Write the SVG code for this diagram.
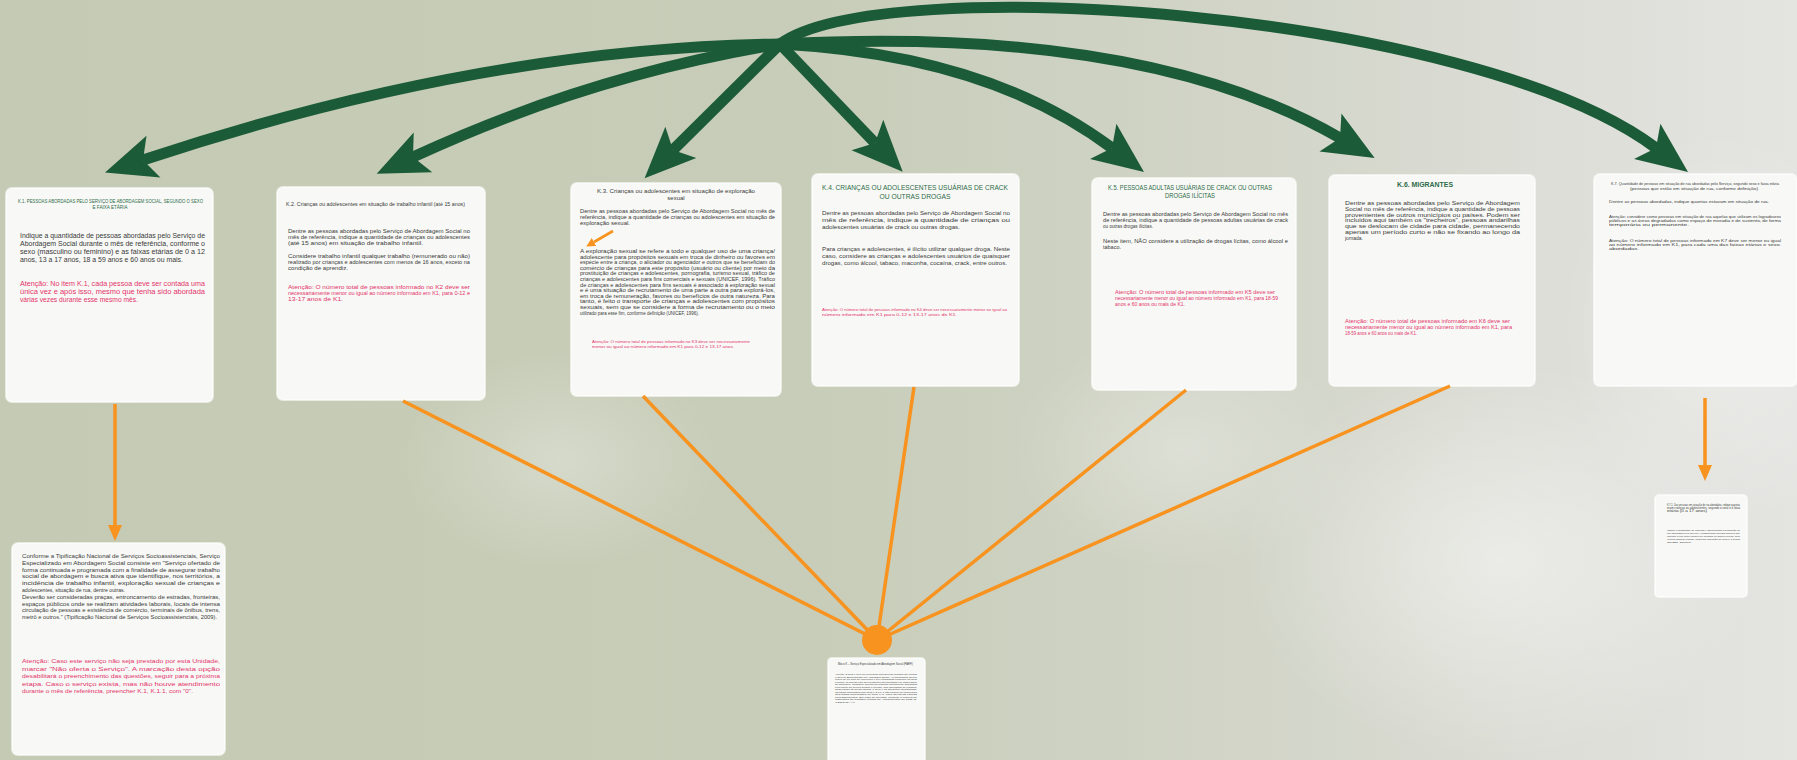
<svg xmlns="http://www.w3.org/2000/svg" width="1797" height="760" viewBox="0 0 1797 760">
<defs>
<linearGradient id="bg" x1="0" y1="0" x2="1" y2="0">
<stop offset="0" stop-color="#c4cab3"/>
<stop offset="0.45" stop-color="#c8cdb9"/>
<stop offset="0.7" stop-color="#d2d5c8"/>
<stop offset="0.85" stop-color="#dcddd6"/>
<stop offset="1" stop-color="#e4e4e1"/>
</linearGradient>
<radialGradient id="glow" cx="0.5" cy="0.5" r="0.5">
<stop offset="0" stop-color="#ffffff" stop-opacity="0.55"/>
<stop offset="1" stop-color="#ffffff" stop-opacity="0"/>
</radialGradient>
<marker id="gh" viewBox="-12 -24 54 48" markerWidth="54" markerHeight="48" refX="0" refY="0" orient="auto" markerUnits="userSpaceOnUse">
<path d="M0,0 L-11,-22 L40,0 L-11,22 Z" fill="#1c5b38"/>
</marker>
<marker id="oh" viewBox="0 -8 16 16" markerWidth="16" markerHeight="16" refX="0" refY="0" orient="auto" markerUnits="userSpaceOnUse">
<path d="M0,-7 L16,0 L0,7 Z" fill="#f7931e"/>
</marker>
<marker id="os" viewBox="0 -5 9 10" markerWidth="9" markerHeight="10" refX="0" refY="0" orient="auto" markerUnits="userSpaceOnUse">
<path d="M0,-4.5 L9,0 L0,4.5 Z" fill="#f7931e"/>
</marker>
<style>
.card{fill:#f8f9f6;stroke:#ffffff;stroke-opacity:0.6;stroke-width:2}
text{font-family:"Liberation Sans",Arial,sans-serif;fill:#3a3a3a}
.r{fill:#e4336b}
.g{fill:#2d6a48}
.ga{fill:none;stroke:#1c5b38;stroke-width:11;stroke-linecap:butt}
.ol{fill:none;stroke:#f7931e;stroke-width:3.5}
</style>
</defs>
<rect x="0" y="0" width="1797" height="760" fill="url(#bg)"/>
<ellipse cx="560" cy="460" rx="160" ry="110" fill="url(#glow)" opacity="0.5"/>
<ellipse cx="1180" cy="450" rx="170" ry="120" fill="url(#glow)" opacity="0.5"/>
<ellipse cx="1500" cy="560" rx="260" ry="200" fill="url(#glow)" opacity="0.8"/>
<ellipse cx="1720" cy="330" rx="160" ry="200" fill="url(#glow)" opacity="0.6"/>

<g id="card-k1">
<rect class="card" x="6" y="188" width="207" height="214" rx="6"/>
<text class="g" x="18" y="203" font-size="4.6" textLength="185" lengthAdjust="spacingAndGlyphs">K.1. PESSOAS ABORDADAS PELO SERVIÇO DE ABORDAGEM SOCIAL, SEGUNDO O SEXO</text>
<text class="g" x="110" y="209" font-size="4.6" text-anchor="middle">E FAIXA ETÁRIA</text>
<text x="20" y="238" font-size="6.8" textLength="185" lengthAdjust="spacingAndGlyphs">Indique a quantidade de pessoas abordadas pelo Serviço de</text>
<text x="20" y="246" font-size="6.8" textLength="185" lengthAdjust="spacingAndGlyphs">Abordagem Social durante o mês de referência, conforme o</text>
<text x="20" y="254" font-size="6.8" textLength="185" lengthAdjust="spacingAndGlyphs">sexo (masculino ou feminino) e as faixas etárias de 0 a 12</text>
<text x="20" y="262" font-size="6.8" textLength="163" lengthAdjust="spacingAndGlyphs">anos, 13 a 17 anos, 18 a 59 anos e 60 anos ou mais.</text>
<text class="r" x="20" y="286" font-size="6.8" textLength="185" lengthAdjust="spacingAndGlyphs">Atenção: No item K.1, cada pessoa deve ser contada uma</text>
<text class="r" x="20" y="294" font-size="6.8" textLength="185" lengthAdjust="spacingAndGlyphs">única vez e após isso, mesmo que tenha sido abordada</text>
<text class="r" x="20" y="302" font-size="6.8" textLength="118" lengthAdjust="spacingAndGlyphs">várias vezes durante esse mesmo mês.</text>
</g>

<g id="card-k2">
<rect class="card" x="277" y="187" width="208" height="213" rx="6"/>
<text x="286" y="206" font-size="4.8" textLength="179" lengthAdjust="spacingAndGlyphs">K.2. Crianças ou adolescentes em situação de trabalho infantil (até 15 anos)</text>
<text x="288" y="233" font-size="5.4" textLength="182" lengthAdjust="spacingAndGlyphs">Dentre as pessoas abordadas pelo Serviço de Abordagem Social no</text>
<text x="288" y="239" font-size="5.4" textLength="182" lengthAdjust="spacingAndGlyphs">mês de referência, indique a quantidade de crianças ou adolescentes</text>
<text x="288" y="245" font-size="5.4" textLength="135" lengthAdjust="spacingAndGlyphs">(até 15 anos) em situação de trabalho infantil.</text>
<text x="288" y="258" font-size="5.4" textLength="182" lengthAdjust="spacingAndGlyphs">Considere trabalho infantil qualquer trabalho (remunerado ou não)</text>
<text x="288" y="264" font-size="5.4" textLength="182" lengthAdjust="spacingAndGlyphs">realizado por crianças e adolescentes com menos de 16 anos, exceto na</text>
<text x="288" y="270" font-size="5.4" textLength="60" lengthAdjust="spacingAndGlyphs">condição de aprendiz.</text>
<text class="r" x="288" y="289" font-size="5.4" textLength="182" lengthAdjust="spacingAndGlyphs">Atenção: O número total de pessoas informado no K2 deve ser</text>
<text class="r" x="288" y="295" font-size="5.4" textLength="182" lengthAdjust="spacingAndGlyphs">necessariamente menor ou igual ao número informado em K1, para 0-12 e</text>
<text class="r" x="288" y="301" font-size="5.4" textLength="55" lengthAdjust="spacingAndGlyphs">13-17 anos de K1.</text>
</g>

<g id="card-k3">
<rect class="card" x="571" y="183" width="210" height="213" rx="6"/>
<text x="676" y="193" font-size="6" text-anchor="middle" textLength="158" lengthAdjust="spacingAndGlyphs">K.3. Crianças ou adolescentes em situação de exploração</text>
<text x="676" y="200" font-size="6" text-anchor="middle">sexual</text>
<text x="580" y="213" font-size="5.2" textLength="195" lengthAdjust="spacingAndGlyphs">Dentre as pessoas abordadas pelo Serviço de Abordagem Social no mês de</text>
<text x="580" y="219" font-size="5.2" textLength="195" lengthAdjust="spacingAndGlyphs">referência, indique a quantidade de crianças ou adolescentes em situação de</text>
<text x="580" y="225" font-size="5.2" textLength="50" lengthAdjust="spacingAndGlyphs">exploração sexual.</text>
<text x="580" y="253" font-size="4.6" textLength="195" lengthAdjust="spacingAndGlyphs">A exploração sexual se refere a todo e qualquer uso de uma criança/</text>
<text x="580" y="258.6" font-size="4.6" textLength="195" lengthAdjust="spacingAndGlyphs">adolescente para propósitos sexuais em troca de dinheiro ou favores em</text>
<text x="580" y="264.2" font-size="4.6" textLength="195" lengthAdjust="spacingAndGlyphs">espécie entre a criança, o aliciador ou agenciador e outros que se beneficiam do</text>
<text x="580" y="269.8" font-size="4.6" textLength="195" lengthAdjust="spacingAndGlyphs">comércio de crianças para este propósito (usuário ou cliente) por meio da</text>
<text x="580" y="275.4" font-size="4.6" textLength="195" lengthAdjust="spacingAndGlyphs">prostituição de crianças e adolescentes, pornografia, turismo sexual, tráfico de</text>
<text x="580" y="281" font-size="4.6" textLength="195" lengthAdjust="spacingAndGlyphs">crianças e adolescentes para fins comerciais e sexuais (UNICEF, 1996). Tráfico</text>
<text x="580" y="286.6" font-size="4.6" textLength="195" lengthAdjust="spacingAndGlyphs">de crianças e adolescentes para fins sexuais é associado à exploração sexual</text>
<text x="580" y="292.2" font-size="4.6" textLength="195" lengthAdjust="spacingAndGlyphs">e é uma situação de recrutamento de uma parte a outra para explorá-los,</text>
<text x="580" y="297.8" font-size="4.6" textLength="195" lengthAdjust="spacingAndGlyphs">em troca de remuneração, favores ou benefícios de outra natureza. Para</text>
<text x="580" y="303.4" font-size="4.6" textLength="195" lengthAdjust="spacingAndGlyphs">tanto, é feito o transporte de crianças e adolescentes com propósitos</text>
<text x="580" y="309" font-size="4.6" textLength="195" lengthAdjust="spacingAndGlyphs">sexuais, sem que se considere a forma de recrutamento ou o meio</text>
<text x="580" y="314.6" font-size="4.6" textLength="119" lengthAdjust="spacingAndGlyphs">utilizado para esse fim, conforme definição (UNICEF, 1996).</text>
<text class="r" x="592" y="343" font-size="4" textLength="158" lengthAdjust="spacingAndGlyphs">Atenção: O número total de pessoas informado no K3 deve ser necessariamente</text>
<text class="r" x="592" y="348" font-size="4" textLength="142" lengthAdjust="spacingAndGlyphs">menor ou igual ao número informado em K1 para 0-12 e 13-17 anos.</text>
<path d="M613,231 L594,242" stroke="#f7931e" stroke-width="2.6" fill="none" marker-end="url(#os)"/>
</g>

<g id="card-k4">
<rect class="card" x="812" y="174" width="207" height="212" rx="6"/>
<text class="g" x="915" y="190" font-size="7.8" text-anchor="middle" textLength="186" lengthAdjust="spacingAndGlyphs">K.4. CRIANÇAS OU ADOLESCENTES USUÁRIAS DE CRACK</text>
<text class="g" x="915" y="199" font-size="7.8" text-anchor="middle" textLength="71" lengthAdjust="spacingAndGlyphs">OU OUTRAS DROGAS</text>
<text x="822" y="215" font-size="6.2" textLength="188" lengthAdjust="spacingAndGlyphs">Dentre as pessoas abordadas pelo Serviço de Abordagem Social no</text>
<text x="822" y="222" font-size="6.2" textLength="188" lengthAdjust="spacingAndGlyphs">mês de referência, indique a quantidade de crianças ou</text>
<text x="822" y="229" font-size="6.2" textLength="138" lengthAdjust="spacingAndGlyphs">adolescentes usuárias de crack ou outras drogas.</text>
<text x="822" y="251" font-size="6.2" textLength="188" lengthAdjust="spacingAndGlyphs">Para crianças e adolescentes, é ilícito utilizar qualquer droga. Neste</text>
<text x="822" y="258" font-size="6.2" textLength="188" lengthAdjust="spacingAndGlyphs">caso, considere as crianças e adolescentes usuários de quaisquer</text>
<text x="822" y="265" font-size="6.2" textLength="185" lengthAdjust="spacingAndGlyphs">drogas, como álcool, tabaco, maconha, cocaína, crack, entre outros.</text>
<text class="r" x="822" y="311" font-size="4.2" textLength="185" lengthAdjust="spacingAndGlyphs">Atenção: O número total de pessoas informado no K4 deve ser necessariamente menor ou igual ao</text>
<text class="r" x="822" y="316" font-size="4.2" textLength="135" lengthAdjust="spacingAndGlyphs">número informado em K1 para 0-12 e 13-17 anos de K1.</text>
</g>

<g id="card-k5">
<rect class="card" x="1092" y="178" width="204" height="212" rx="6"/>
<text class="g" x="1190" y="190" font-size="6.4" text-anchor="middle" textLength="164" lengthAdjust="spacingAndGlyphs">K.5. PESSOAS ADULTAS USUÁRIAS DE CRACK OU OUTRAS</text>
<text class="g" x="1190" y="198" font-size="6.4" text-anchor="middle" textLength="50" lengthAdjust="spacingAndGlyphs">DROGAS ILÍCITAS</text>
<text x="1103" y="216" font-size="5.2" textLength="185" lengthAdjust="spacingAndGlyphs">Dentre as pessoas abordadas pelo Serviço de Abordagem Social no mês</text>
<text x="1103" y="222" font-size="5.2" textLength="185" lengthAdjust="spacingAndGlyphs">de referência, indique a quantidade de pessoas adultas usuárias de crack</text>
<text x="1103" y="228" font-size="5.2" textLength="50" lengthAdjust="spacingAndGlyphs">ou outras drogas ilícitas.</text>
<text x="1103" y="243" font-size="5.2" textLength="185" lengthAdjust="spacingAndGlyphs">Neste item, NÃO considere a utilização de drogas lícitas, como álcool e</text>
<text x="1103" y="249" font-size="5.2" textLength="18" lengthAdjust="spacingAndGlyphs">tabaco.</text>
<text class="r" x="1115" y="294" font-size="5" textLength="160" lengthAdjust="spacingAndGlyphs">Atenção: O número total de pessoas informado em K5 deve ser</text>
<text class="r" x="1115" y="300" font-size="5" textLength="163" lengthAdjust="spacingAndGlyphs">necessariamente menor ou igual ao número informado em K1, para 18-59</text>
<text class="r" x="1115" y="306" font-size="5" textLength="70" lengthAdjust="spacingAndGlyphs">anos e 60 anos ou mais de K1.</text>
</g>

<g id="card-k6">
<rect class="card" x="1329" y="175" width="206" height="211" rx="6"/>
<text class="g" x="1425" y="187" font-size="6.8" font-weight="bold" text-anchor="middle" textLength="56" lengthAdjust="spacingAndGlyphs">K.6. MIGRANTES</text>
<text x="1345" y="205" font-size="5.6" textLength="175" lengthAdjust="spacingAndGlyphs">Dentre as pessoas abordadas pelo Serviço de Abordagem</text>
<text x="1345" y="210.8" font-size="5.6" textLength="175" lengthAdjust="spacingAndGlyphs">Social no mês de referência, indique a quantidade de pessoas</text>
<text x="1345" y="216.6" font-size="5.6" textLength="175" lengthAdjust="spacingAndGlyphs">provenientes de outros municípios ou países. Podem ser</text>
<text x="1345" y="222.4" font-size="5.6" textLength="175" lengthAdjust="spacingAndGlyphs">incluídos aqui também os "trecheiros", pessoas andarilhas</text>
<text x="1345" y="228.2" font-size="5.6" textLength="175" lengthAdjust="spacingAndGlyphs">que se deslocam de cidade para cidade, permanecendo</text>
<text x="1345" y="234" font-size="5.6" textLength="175" lengthAdjust="spacingAndGlyphs">apenas um período curto e não se fixando ao longo da</text>
<text x="1345" y="239.8" font-size="5.6" textLength="18" lengthAdjust="spacingAndGlyphs">jornada.</text>
<text class="r" x="1345" y="323" font-size="5.2" textLength="165" lengthAdjust="spacingAndGlyphs">Atenção: O número total de pessoas informado em K6 deve ser</text>
<text class="r" x="1345" y="329" font-size="5.2" textLength="167" lengthAdjust="spacingAndGlyphs">necessariamente menor ou igual ao número informado em K1, para</text>
<text class="r" x="1345" y="335" font-size="5.2" textLength="72" lengthAdjust="spacingAndGlyphs">18-59 anos e 60 anos ou mais de K1.</text>
</g>

<g id="card-k7">
<rect class="card" x="1594" y="174" width="203" height="212" rx="6"/>
<text x="1695" y="185" font-size="3.6" text-anchor="middle" textLength="168" lengthAdjust="spacingAndGlyphs">K.7. Quantidade de pessoas em situação de rua abordadas pelo Serviço, segundo sexo e faixa etária</text>
<text x="1694" y="190" font-size="3.6" text-anchor="middle" textLength="128" lengthAdjust="spacingAndGlyphs">(pessoas que estão em situação de rua, conforme definição)</text>
<text x="1609" y="203" font-size="3.6" textLength="160" lengthAdjust="spacingAndGlyphs">Dentre as pessoas abordadas, indique quantas estavam em situação de rua.</text>
<text x="1609" y="218" font-size="3.4" textLength="172" lengthAdjust="spacingAndGlyphs">Atenção: considere como pessoas em situação de rua aquelas que utilizam os logradouros</text>
<text x="1609" y="222" font-size="3.4" textLength="172" lengthAdjust="spacingAndGlyphs">públicos e as áreas degradadas como espaço de moradia e de sustento, de forma</text>
<text x="1609" y="226" font-size="3.4" textLength="80" lengthAdjust="spacingAndGlyphs">temporária ou permanente.</text>
<text x="1609" y="242" font-size="3.4" textLength="172" lengthAdjust="spacingAndGlyphs">Atenção: O número total de pessoas informado em K7 deve ser menor ou igual</text>
<text x="1609" y="246" font-size="3.4" textLength="172" lengthAdjust="spacingAndGlyphs">ao número informado em K1, para cada uma das faixas etárias e sexo.</text>
<text x="1609" y="250" font-size="3.4" textLength="30" lengthAdjust="spacingAndGlyphs">abordadas.</text>
</g>

<g id="card-intro">
<rect class="card" x="12" y="543" width="213" height="212" rx="6"/>
<text x="22" y="558" font-size="6.1" textLength="198" lengthAdjust="spacingAndGlyphs">Conforme a Tipificação Nacional de Serviços Socioassistenciais, Serviço</text>
<text x="22" y="564.8" font-size="6.1" textLength="198" lengthAdjust="spacingAndGlyphs">Especializado em Abordagem Social consiste em "Serviço ofertado de</text>
<text x="22" y="571.6" font-size="6.1" textLength="198" lengthAdjust="spacingAndGlyphs">forma continuada e programada com a finalidade de assegurar trabalho</text>
<text x="22" y="578.4" font-size="6.1" textLength="198" lengthAdjust="spacingAndGlyphs">social de abordagem e busca ativa que identifique, nos territórios, a</text>
<text x="22" y="585.2" font-size="6.1" textLength="198" lengthAdjust="spacingAndGlyphs">incidência de trabalho infantil, exploração sexual de crianças e</text>
<text x="22" y="592" font-size="6.1" textLength="103" lengthAdjust="spacingAndGlyphs">adolescentes, situação de rua, dentre outras.</text>
<text x="22" y="598.8" font-size="6.1" textLength="198" lengthAdjust="spacingAndGlyphs">Deverão ser consideradas praças, entroncamento de estradas, fronteiras,</text>
<text x="22" y="605.6" font-size="6.1" textLength="198" lengthAdjust="spacingAndGlyphs">espaços públicos onde se realizam atividades laborais, locais de intensa</text>
<text x="22" y="612.4" font-size="6.1" textLength="198" lengthAdjust="spacingAndGlyphs">circulação de pessoas e existência de comércio, terminais de ônibus, trens,</text>
<text x="22" y="619.2" font-size="6.1" textLength="195" lengthAdjust="spacingAndGlyphs">metrô e outros." (Tipificação Nacional de Serviços Socioassistenciais, 2009).</text>
<text class="r" x="22" y="663" font-size="6.1" textLength="198" lengthAdjust="spacingAndGlyphs">Atenção: Caso este serviço não seja prestado por esta Unidade,</text>
<text class="r" x="22" y="670.5" font-size="6.1" textLength="198" lengthAdjust="spacingAndGlyphs">marcar "Não oferta o Serviço". A marcação desta opção</text>
<text class="r" x="22" y="678" font-size="6.1" textLength="198" lengthAdjust="spacingAndGlyphs">desabilitará o preenchimento das questões, seguir para a próxima</text>
<text class="r" x="22" y="685.5" font-size="6.1" textLength="198" lengthAdjust="spacingAndGlyphs">etapa. Caso o serviço exista, mas não houve atendimento</text>
<text class="r" x="22" y="693" font-size="6.1" textLength="171" lengthAdjust="spacingAndGlyphs">durante o mês de referência, preencher K.1, K.1.1, com "0".</text>
</g>

<g id="card-bloco-k">
<rect class="card" x="828" y="658" width="97" height="112" rx="4"/>
<text x="838" y="665" font-size="2.6" textLength="75" lengthAdjust="spacingAndGlyphs">Bloco K – Serviço Especializado em Abordagem Social (PAEFI)</text>
<text x="835" y="675" font-size="2.4" textLength="82" lengthAdjust="spacingAndGlyphs">Atenção: O bloco K deve ser preenchido apenas pelas unidades que ofertam</text>
<text x="835" y="677.5" font-size="2.4" textLength="82" lengthAdjust="spacingAndGlyphs">o Serviço Especializado em Abordagem Social. As informações devem</text>
<text x="835" y="680" font-size="2.4" textLength="82" lengthAdjust="spacingAndGlyphs">referir-se ao mês de referência e ser registradas conforme os itens</text>
<text x="835" y="682.5" font-size="2.4" textLength="82" lengthAdjust="spacingAndGlyphs">a seguir, de acordo com as orientações apresentadas em cada campo</text>
<text x="835" y="685" font-size="2.4" textLength="82" lengthAdjust="spacingAndGlyphs">do formulário. Considere apenas as pessoas efetivamente abordadas</text>
<text x="835" y="687.5" font-size="2.4" textLength="82" lengthAdjust="spacingAndGlyphs">pela equipe do serviço durante o período, sem duplicidade de registros,</text>
<text x="835" y="690" font-size="2.4" textLength="82" lengthAdjust="spacingAndGlyphs">observando as faixas etárias, o sexo e as situações identificadas.</text>
<text x="835" y="692.5" font-size="2.4" textLength="82" lengthAdjust="spacingAndGlyphs">Os totais informados nos itens K.2 a K.7 não podem ser superiores</text>
<text x="835" y="695" font-size="2.4" textLength="82" lengthAdjust="spacingAndGlyphs">aos totais informados no item K.1, para as faixas etárias</text>
<text x="835" y="697.5" font-size="2.4" textLength="82" lengthAdjust="spacingAndGlyphs">correspondentes. Em caso de dúvidas, consulte o manual de</text>
<text x="835" y="700" font-size="2.4" textLength="82" lengthAdjust="spacingAndGlyphs">instruções do Registro Mensal de Atendimentos do CREAS.</text>
<text x="835" y="702.5" font-size="2.4" textLength="20" lengthAdjust="spacingAndGlyphs">(RMA)</text>
</g>

<g id="card-k7-note">
<rect class="card" x="1655" y="495" width="92" height="102" rx="4"/>
<text x="1667" y="506" font-size="2.6" textLength="73" lengthAdjust="spacingAndGlyphs">K.7.1. Das pessoas em situação de rua abordadas, indique quantas</text>
<text x="1667" y="509" font-size="2.6" textLength="73" lengthAdjust="spacingAndGlyphs">eram crianças ou adolescentes, segundo o sexo e a faixa</text>
<text x="1667" y="512" font-size="2.6" textLength="40" lengthAdjust="spacingAndGlyphs">etária (0 a 17 anos)</text>
<text x="1667" y="531" font-size="2.5" textLength="73" lengthAdjust="spacingAndGlyphs">Indique a quantidade de crianças e adolescentes em situação de</text>
<text x="1667" y="534" font-size="2.5" textLength="73" lengthAdjust="spacingAndGlyphs">rua abordados pelo Serviço, considerando apenas aqueles que</text>
<text x="1667" y="537" font-size="2.5" textLength="73" lengthAdjust="spacingAndGlyphs">utilizam a rua como espaço de moradia ou sobrevivência, sem</text>
<text x="1667" y="540" font-size="2.5" textLength="73" lengthAdjust="spacingAndGlyphs">vínculo familiar regular, conforme definição do item K.7 acima</text>
<text x="1667" y="543" font-size="2.5" textLength="25" lengthAdjust="spacingAndGlyphs">deste bloco.</text>
</g>

<g id="connectors">
<path class="ga" d="M780,44 Q480,48 143,160" marker-end="url(#gh)"/>
<path class="ga" d="M780,44 Q590,75 413,157" marker-end="url(#gh)"/>
<path class="ga" d="M780,44 L673,150" marker-end="url(#gh)"/>
<path class="ga" d="M780,44 L875,143" marker-end="url(#gh)"/>
<path class="ga" d="M780,44 Q988,55 1112,148" marker-end="url(#gh)"/>
<path class="ga" d="M780,44 Q1144,25 1340,138" marker-end="url(#gh)"/>
<path class="ga" d="M780,44 C880,-30 1472,10 1656,148" marker-end="url(#gh)"/>
<line class="ol" x1="877" y1="640" x2="403" y2="401"/>
<line class="ol" x1="877" y1="640" x2="643" y2="396"/>
<line class="ol" x1="877" y1="640" x2="914" y2="387"/>
<line class="ol" x1="877" y1="640" x2="1186" y2="390"/>
<line class="ol" x1="877" y1="640" x2="1450" y2="386"/>
<circle cx="877" cy="640" r="15" fill="#f7931e"/>
<line class="ol" x1="115" y1="404" x2="115" y2="525" marker-end="url(#oh)"/>
<line class="ol" x1="1705" y1="398" x2="1705" y2="465" marker-end="url(#oh)"/>
</g>
</svg>
